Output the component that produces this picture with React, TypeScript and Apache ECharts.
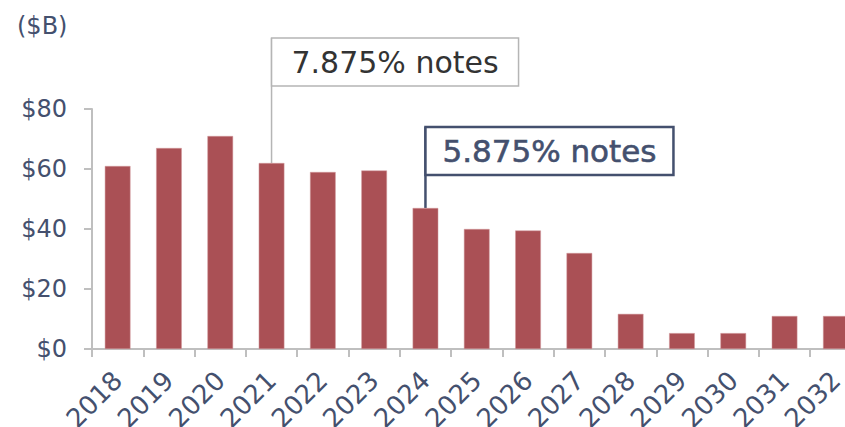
import React, { useEffect, useRef } from "react";
import * as echarts from "echarts";

const years = ["2018", "2019", "2020", "2021", "2022", "2023", "2024", "2025", "2026", "2027", "2028", "2029", "2030", "2031", "2032"];
const maturities = [61, 67, 71, 62, 59, 59.5, 47, 40, 39.5, 32, 11.7, 5.3, 5.3, 11, 11];
const yTicks = { min: 0, max: 80, interval: 20 };
const unitLabel = "($B)";
const notes = [
  { label: "7.875% notes", year: "2021" },
  { label: "5.875% notes", year: "2024" },
];

const LABEL = "#44506e";
const AXIS = "#bfbfbf";
const BAR = "#aa5055";
const FONT = "DejaVu Sans";

export default function App() {
  const ref = useRef<HTMLDivElement>(null);
  useEffect(() => {
    if (!ref.current) return;
    const chart = echarts.init(ref.current, null, { renderer: "svg" });
    chart.setOption({
      animation: false,
      grid: { left: 92, top: 109, width: 769.5, height: 240, containLabel: false, outerBoundsMode: "none" },
      xAxis: {
        type: "category",
        data: years,
        boundaryGap: true,
        axisLine: { show: true, lineStyle: { color: AXIS, width: 2 } },
        axisTick: { show: true, length: 8, lineStyle: { color: AXIS, width: 2 } },
        axisLabel: { rotate: 45, fontSize: 26, color: LABEL, fontFamily: FONT, margin: 27, interval: 0, hideOverlap: false },
      },
      yAxis: {
        type: "value",
        min: yTicks.min,
        max: yTicks.max,
        interval: yTicks.interval,
        splitLine: { show: false },
        axisLine: { show: true, lineStyle: { color: AXIS, width: 2 } },
        axisTick: { show: true, length: 8, lineStyle: { color: AXIS, width: 2 } },
        axisLabel: { fontSize: 24, color: LABEL, fontFamily: FONT, margin: 25, formatter: (v: number) => "$" + v },
      },
      series: [
        {
          type: "bar",
          data: maturities,
          barWidth: "50%",
          itemStyle: { color: BAR, borderColor: "#d29a9e", borderWidth: 0.5 },
          clip: false,
        },
      ],
    });

    const p1 = chart.convertToPixel({ xAxisIndex: 0, yAxisIndex: 0 }, [notes[0].year, maturities[years.indexOf(notes[0].year)]]) as number[];
    const p2 = chart.convertToPixel({ xAxisIndex: 0, yAxisIndex: 0 }, [notes[1].year, maturities[years.indexOf(notes[1].year)]]) as number[];
    const b1 = { top: 38, w: 247, h: 48 };
    const b2 = { top: 127, w: 248, h: 48 };
    chart.setOption({
      graphic: [
        {
          type: "text",
          left: 17,
          top: 14,
          style: { text: unitLabel, fontSize: 24, fill: LABEL, fontFamily: FONT },
        },
        {
          type: "line",
          shape: { x1: p1[0], y1: b1.top, x2: p1[0], y2: p1[1] },
          style: { stroke: "#b5b5b5", lineWidth: 1.5 },
        },
        {
          type: "rect",
          shape: { x: p1[0], y: b1.top, width: b1.w, height: b1.h },
          style: { fill: "#fff", stroke: "#b5b5b5", lineWidth: 1.5 },
        },
        {
          type: "text",
          x: p1[0] + b1.w / 2,
          y: b1.top + b1.h / 2,
          style: { text: notes[0].label, fontSize: 30, fill: "#333333", fontFamily: FONT, align: "center", verticalAlign: "middle" },
        },
        {
          type: "line",
          shape: { x1: p2[0], y1: b2.top, x2: p2[0], y2: p2[1] },
          style: { stroke: LABEL, lineWidth: 2.5 },
        },
        {
          type: "rect",
          shape: { x: p2[0], y: b2.top, width: b2.w, height: b2.h },
          style: { fill: "#fff", stroke: LABEL, lineWidth: 2.5 },
        },
        {
          type: "text",
          x: p2[0] + b2.w / 2,
          y: b2.top + b2.h / 2,
          style: { text: notes[1].label, fontSize: 31, fill: LABEL, fontFamily: FONT, align: "center", verticalAlign: "middle", stroke: LABEL, lineWidth: 0.6 },
        },
      ],
    });
    return () => chart.dispose();
  }, []);
  return <div ref={ref} style={{ position: "absolute", left: 0, top: 0, width: 845, height: 427, background: "#fff" }} />;
}
